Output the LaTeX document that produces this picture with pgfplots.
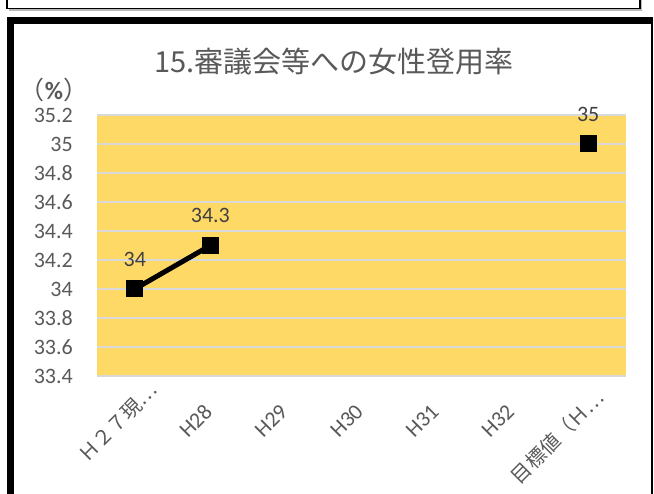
\documentclass[border=0pt]{standalone}
\usepackage{fontspec}
\setmainfont{Carlito}
\newfontfamily\cjk{Noto Sans CJK JP}
\usepackage{pgfplots}
\pgfplotsset{compat=1.18}
\definecolor{plotbg}{HTML}{FFD966}
\definecolor{gridc}{HTML}{D9D9D9}
\definecolor{txt}{HTML}{595959}
\definecolor{lbl}{HTML}{404040}

\begin{document}
\begin{tikzpicture}
\useasboundingbox (0,0) rectangle (654pt,494pt);
\clip (0,0) rectangle (654pt,494pt);
% box above the chart
\fill[gray!55] (9pt,498pt) rectangle (642pt,483pt);
\draw[black, line width=1.3pt, fill=white] (7pt,500pt) rectangle (640pt,485.5pt);
% thick frame of the chart
\fill[black] (7pt,477pt) rectangle (653pt,470pt);
\fill[black] (7pt,477pt) rectangle (14pt,-5pt);
\fill[black] (651pt,477pt) rectangle (653pt,-5pt);
% title and unit
\node[text=txt, font={\cjk\fontsize{29}{33}\selectfont}] at (334pt,432pt) {15.審議会等への女性登用率};
\node[text=txt, font={\fontsize{25}{29}\selectfont}] at (54pt,404pt) {{\cjk （}\textbf{\%}{\cjk ）}};

\begin{axis}[
  at={(97pt,118pt)}, anchor=south west,
  scale only axis, width=529pt, height=261pt,
  xmin=-0.5, xmax=6.5, ymin=33.4, ymax=35.2,
  clip=false,
  axis background/.style={fill=plotbg},
  axis line style={draw=none},
  major tick length=0pt,
  ytick={33.4,33.6,33.8,34,34.2,34.4,34.6,34.8,35,35.2},
  ymajorgrids,
  grid style={gridc, line width=2pt},
  xtick={0,1,2,3,4,5,6},
  xticklabels={{\cjk\fontsize{20}{24}\selectfont Ｈ２７現…\kern-30pt},H28,H29,H30,H31,H32,
    {\cjk\fontsize{20}{24}\selectfont 目標値（Ｈ…\kern-20pt}},
  tick label style={font=\fontsize{22}{26}\selectfont, text=txt},
  /pgf/number format/assume math mode=true,
  yticklabel style={anchor=east, inner sep=0pt, xshift=-24pt},
  xticklabel style={xshift=-2pt, yshift=-32pt, rotate=45, anchor=east, inner sep=0pt},
  nodes near coords,
  nodes near coords style={anchor=center, yshift=30pt, text=lbl, font=\fontsize{22}{26}\selectfont},
]
\addplot[black, line width=5pt, mark=square*, mark size=8pt, mark options={line width=0pt}]
  coordinates {(0,34) (1,34.3)};
\addplot[black, only marks, mark=square*, mark size=8pt, mark options={line width=0pt}]
  coordinates {(6,35)};
\end{axis}
\end{tikzpicture}
\end{document}
